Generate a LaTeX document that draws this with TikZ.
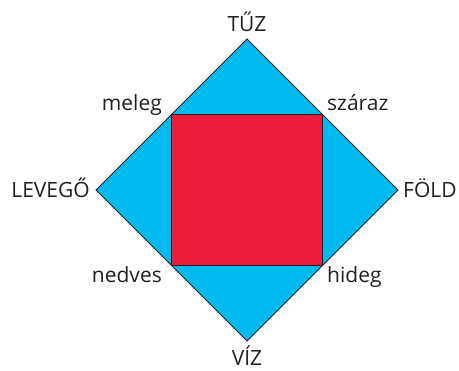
\documentclass[tikz,border=0pt]{standalone}
\usepackage{fontspec}
\setsansfont{Open Sans}
\usetikzlibrary{calc}
\definecolor{b}{HTML}{00B9EF}
\definecolor{r}{HTML}{ED1B3A}
\definecolor{k}{HTML}{231F20}
\begin{document}
\begin{tikzpicture}[x=1pt,y=-1pt,font=\sffamily\fontsize{21}{25}\selectfont,
  elem/.style={inner sep=0pt,text=k},
  outline/.style={draw=k,line width=0.8pt,line join=miter}]
  \useasboundingbox (0,0) rectangle (459,371);
  % diamond corners
  \coordinate (top) at (247,39);
  \coordinate (left) at (96,190);
  \coordinate (right) at (398,190);
  \coordinate (bottom) at (247,341);
  % square corners
  \coordinate (tl) at ($(top)!.5!(left)$);
  \coordinate (tr) at ($(top)!.5!(right)$);
  \coordinate (br) at ($(bottom)!.5!(right)$);
  \coordinate (bl) at ($(bottom)!.5!(left)$);
  \draw[outline,fill=b] (top) -- (right) -- (bottom) -- (left) -- cycle;
  \draw[outline,fill=r] (tl) -- (tr) -- (br) -- (bl) -- cycle;
  % labels
  \node[elem,anchor=base] (tuz) at (247,32) {TŰZ};
  \node[elem,anchor=base] (viz) at (247,366) {VÍZ};
  \node[elem,anchor=base east] (levego) at (90,198) {LEVEGŐ};
  \node[elem,anchor=base west] (fold) at (403,198) {FÖLD};
  \node[elem,anchor=base east] (meleg) at (162,111) {meleg};
  \node[elem,anchor=base west] (szaraz) at (327,111) {száraz};
  \node[elem,anchor=base east] (nedves) at (162,283) {nedves};
  \node[elem,anchor=base west] (hideg) at (327,283) {hideg};
\end{tikzpicture}
\end{document}
